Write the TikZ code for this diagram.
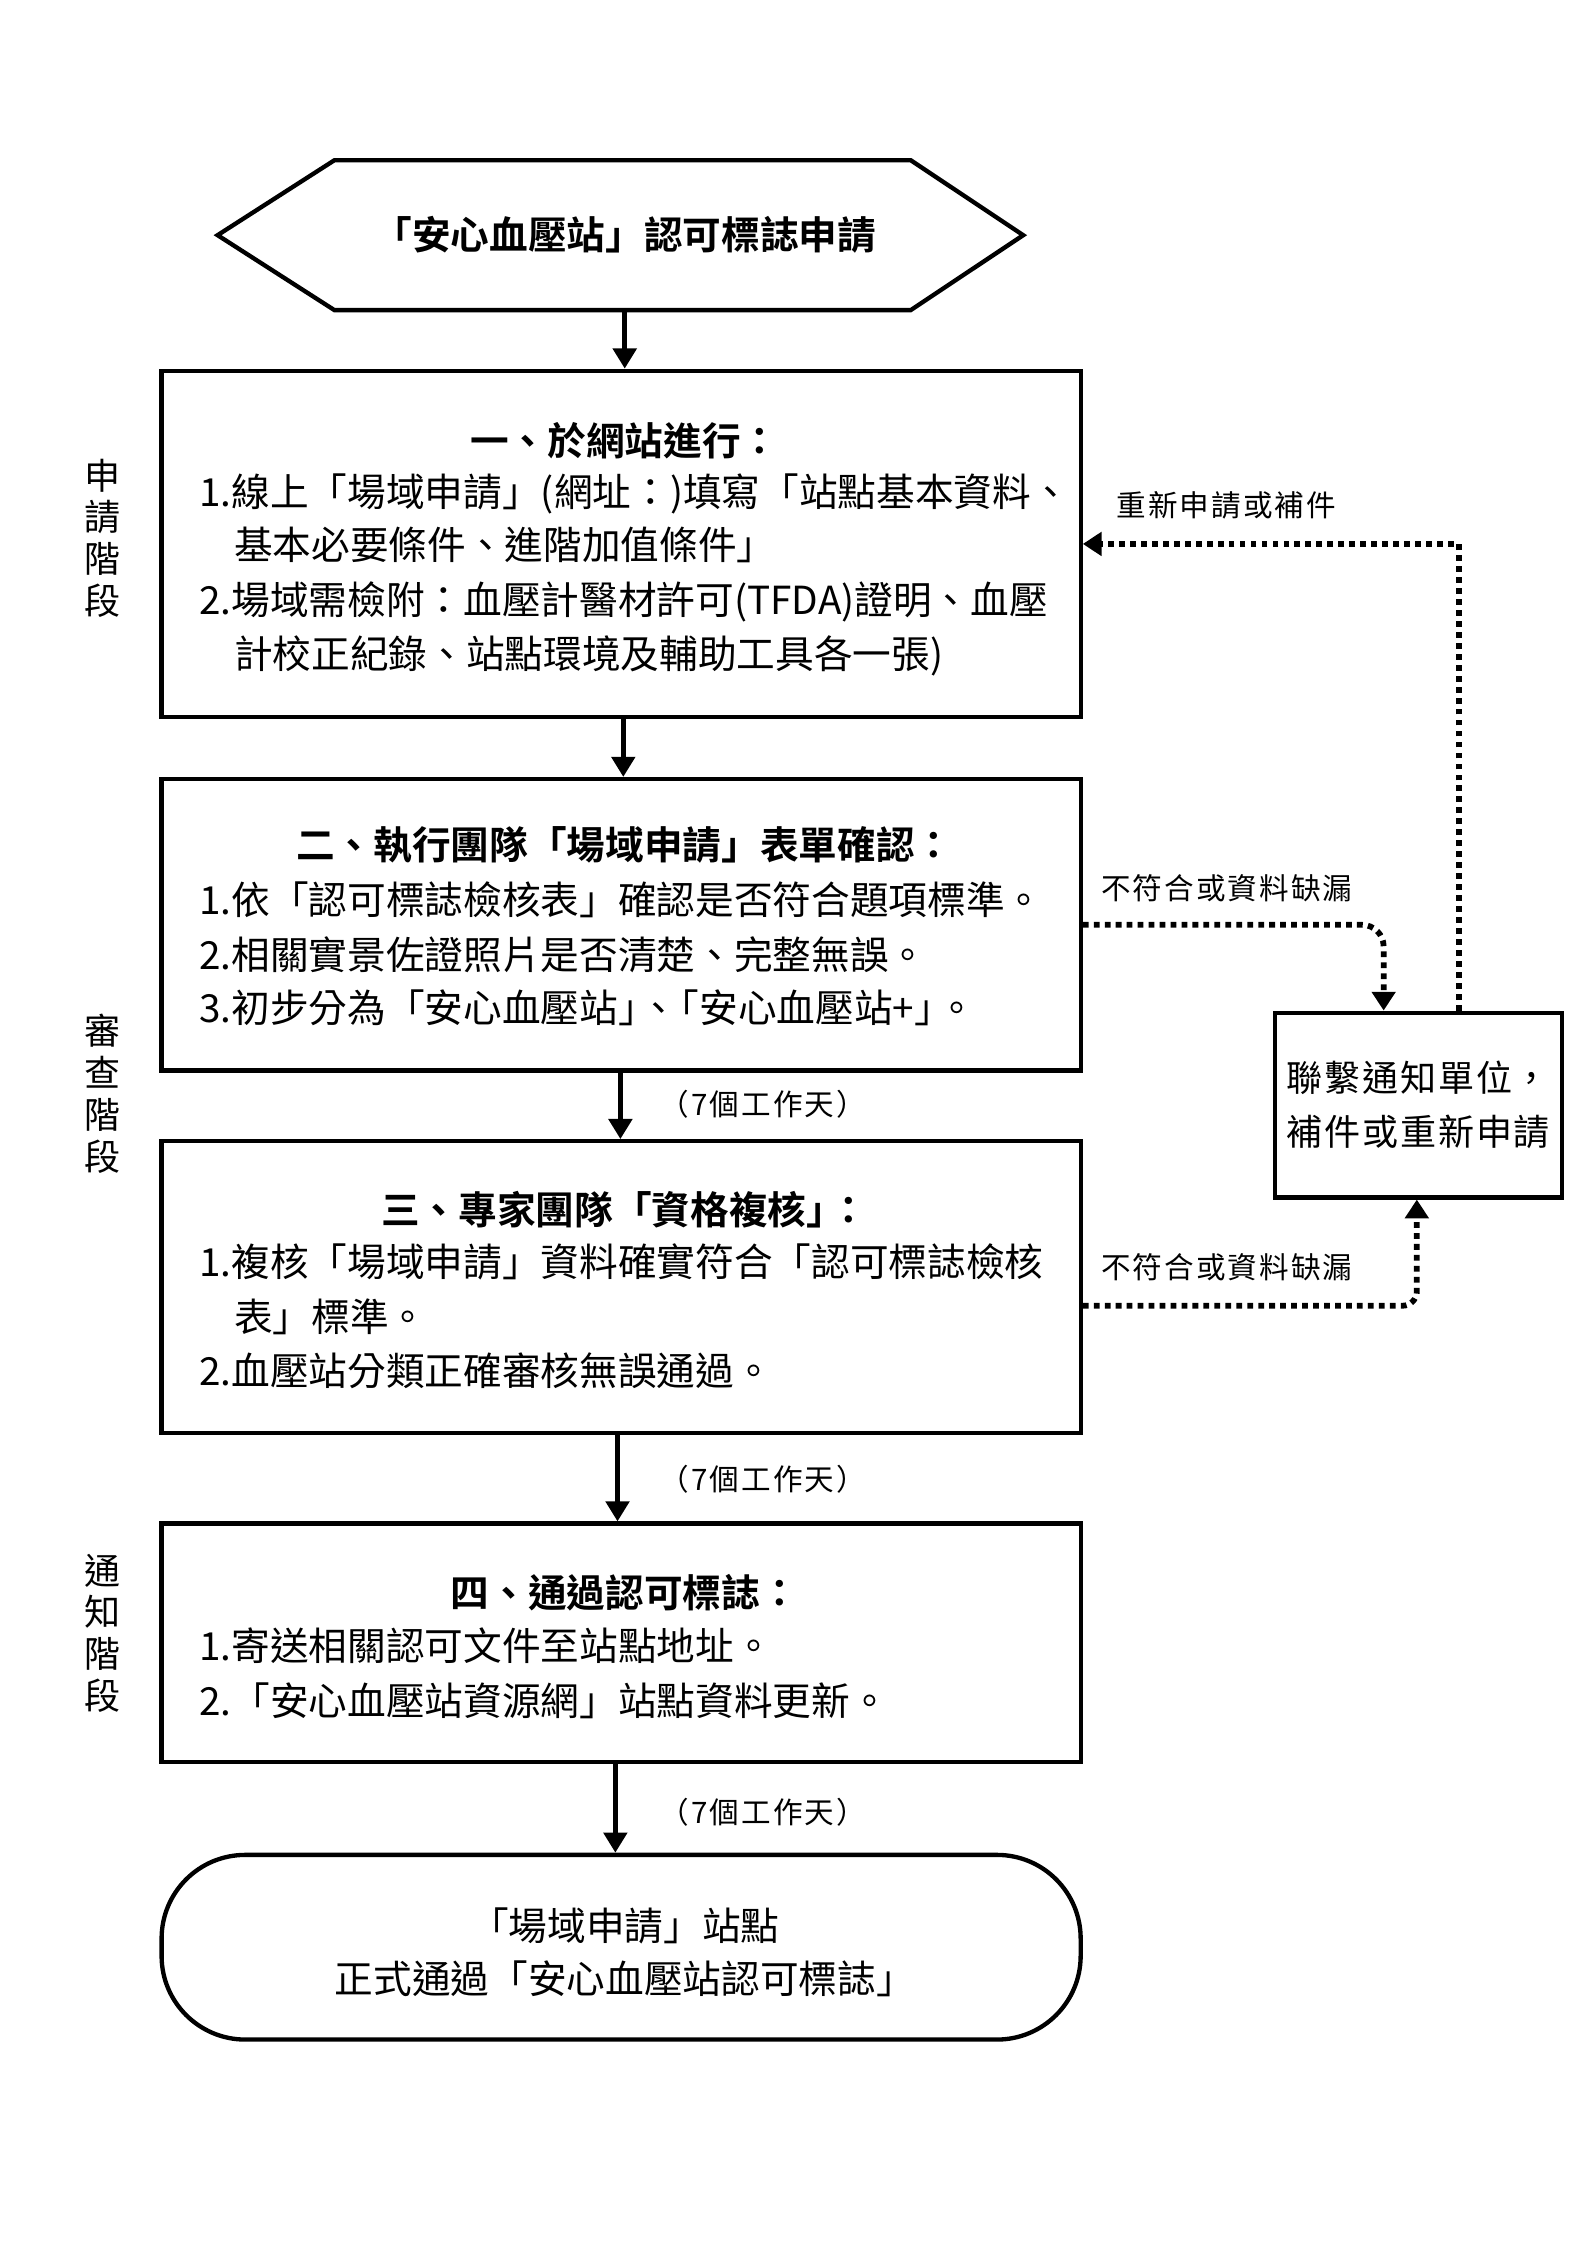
\documentclass[tikz,border=0pt]{standalone}
\usepackage{fontspec}
\usetikzlibrary{arrows.meta}
\newfontfamily\cjk{Noto Sans CJK TC}[BoldFont={Noto Sans CJK TC Bold}]
\newfontfamily\cjkls{Noto Sans CJK TC}[LetterSpace=7]
\newfontfamily\cjkrb{Noto Sans CJK TC}[LetterSpace=5]
\newcommand\bodyfont{\cjk\fontsize{26.8pt}{37pt}\selectfont}
\newcommand\lblfont{\cjkls\fontsize{20.5pt}{24pt}\selectfont}
\newcommand\rbfont{\cjkrb\fontsize{25pt}{37pt}\selectfont}
\newcommand\sidefont{\cjk\fontsize{25pt}{29pt}\selectfont}
\newcommand\pk{\kern-0.45em}
\tikzset{
  boxstyle/.style={draw, line width=3pt, inner sep=0pt},
  body/.style={inner sep=0pt, anchor=base west, font=\bodyfont},
  ttl/.style={inner sep=0pt, anchor=base, font=\bodyfont\bfseries},
  ctext/.style={inner sep=0pt, anchor=base, font=\bodyfont},
  arr/.style={line width=3.5pt, -{Triangle[length=14pt,width=16pt]}},
  dotarr/.style={line width=4pt, dash pattern=on 4pt off 3.6pt, -{Triangle[length=13pt,width=16pt]}},
  lbl/.style={inner sep=0pt, anchor=base west, font=\lblfont},
  side/.style={inner sep=0pt, align=center, font=\sidefont},
}
\begin{document}
\begin{tikzpicture}[x=1pt,y=-1pt]
\fill[white] (0,0) rectangle (1100,1556);
\useasboundingbox (0,0) rectangle (1100,1556);

% start hexagon
\node[inner sep=0pt, minimum width=558pt, minimum height=103.5pt] (hex) at (430,163) {};
\draw[line width=3pt] (hex.west) -- ([xshift=81pt]hex.north west) -- ([xshift=-78pt]hex.north east)
  -- (hex.east) -- ([xshift=-78pt]hex.south east) -- ([xshift=81pt]hex.south west) -- cycle;
\node[ttl] (hext) at (433,173) {「安心血壓站」認可標誌申請};

% boxes
\node[boxstyle, minimum width=637pt, minimum height=240pt] (b1) at (430.5,377) {};
\node[boxstyle, minimum width=637pt, minimum height=202pt] (b2) at (430.5,641) {};
\node[boxstyle, minimum width=637pt, minimum height=202pt] (b3) at (430.5,892) {};
\node[boxstyle, minimum width=637pt, minimum height=165pt] (b4) at (430.5,1138.5) {};
\node[boxstyle, rounded corners=58pt, minimum width=637pt, minimum height=128pt] (term) at (430.5,1349.6) {};
\node[boxstyle, minimum width=199pt, minimum height=128pt, align=center, font=\rbfont] (rb) at (983,765.9) {聯繫通知單位，\\補件或重新申請};

% box 1 text
\node[ttl] (t1) at (433,315.5) {一、於網站進行：};
\node[body] (t1a) at (138,351) {1.線上「場域申請」(網址：)填寫「站點基本資料、};
\node[body] (t1b) at (162,388) {基本必要條件、進階加值條件」};
\node[body] (t1c) at (138,426) {2.場域需檢附：血壓計醫材許可(TFDA)證明、血壓};
\node[body] (t1d) at (162,463) {計校正紀錄、站點環境及輔助工具各一張)};

% box 2 text
\node[ttl] (t2) at (433,595.6) {二、執行團隊「場域申請」表單確認：};
\node[body] (t2a) at (138,633.7) {1.依「認可標誌檢核表」確認是否符合題項標準。};
\node[body] (t2b) at (138,671.8) {2.相關實景佐證照片是否清楚、完整無誤。};
\node[body] (t2c) at (138,708.8) {3.初步分為「安心血壓站」\pk、\pk「安心血壓站+」\kern-0.4em。};

% box 3 text
\node[ttl] (t3) at (433,848.5) {三、專家團隊「資格複核」\kern-0.4em：};
\node[body] (t3a) at (138,885) {1.複核「場域申請」資料確實符合「認可標誌檢核};
\node[body] (t3b) at (162,922.5) {表」標準。};
\node[body] (t3c) at (138,960.6) {2.血壓站分類正確審核無誤通過。};

% box 4 text
\node[ttl] (t4) at (433,1114) {四、通過認可標誌：};
\node[body] (t4a) at (138,1151) {1.寄送相關認可文件至站點地址。};
\node[body] (t4b) at (138,1189) {2.「安心血壓站資源網」站點資料更新。};

% terminal text
\node[ctext] (tta) at (433,1345) {「場域申請」站點};
\node[ctext] (ttb) at (433,1382) {正式通過「安心血壓站認可標誌」};

% side labels
\node[side] (s1) at (71,373) {申\\請\\階\\段};
\node[side] (s2) at (71,758) {審\\查\\階\\段};
\node[side] (s3) at (71,1132) {通\\知\\階\\段};

% main arrows
\draw[arr] ([xshift=3pt]hex.south) -- ([xshift=2.5pt]b1.north);
\draw[arr] ([xshift=1.5pt]b1.south) -- ([xshift=1.5pt]b2.north);
\draw[arr] ([xshift=-0.5pt]b2.south) -- ([xshift=-0.5pt]b3.north);
\draw[arr] ([xshift=-2.5pt]b3.south) -- ([xshift=-2.5pt]b4.north);
\draw[arr] ([xshift=-4pt]b4.south) -- ([xshift=-4pt]term.north);

\node[lbl] (d1) at (457,773.2) {（7個工作天）};
\node[lbl] (d2) at (457,1033) {（7個工作天）};
\node[lbl] (d3) at (457,1264) {（7個工作天）};

% dotted feedback connectors
\draw[dotarr, rounded corners=15pt] (b2.east) -| ([xshift=-24pt]rb.north);
\draw[dotarr, rounded corners=10pt] ([yshift=-13pt]b3.east) -| ([xshift=-1pt]rb.south);
\draw[dotarr] ([xshift=28pt]rb.north) |- (b1.east);

\node[lbl] (l0) at (773.6,358.2) {重新申請或補件};
\node[lbl] (l1) at (763,623.4) {不符合或資料缺漏};
\node[lbl] (l2) at (763,886.4) {不符合或資料缺漏};
\end{tikzpicture}
\end{document}
